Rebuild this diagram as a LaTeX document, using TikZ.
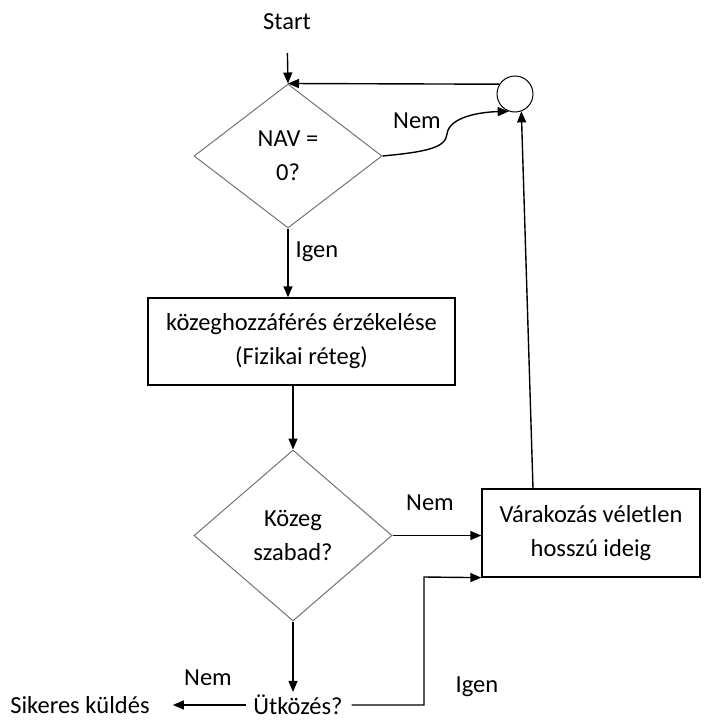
\documentclass[tikz,border=0pt]{standalone}
\usepackage{fontspec}
\setmainfont{Carlito}
\usetikzlibrary{shapes.geometric}
\usetikzlibrary{arrows.meta}

\begin{document}
\begin{tikzpicture}[x=1pt,y=-1pt,
	txt/.style={font=\fontsize{24.5}{34}\selectfont,align=center,inner sep=3pt},
	box/.style={txt,draw,line width=1.3pt},
	decision/.style={txt,diamond,draw=black!55,line width=1pt,inner sep=0pt},
	arr/.style={line width=1.4pt,-{Triangle[length=11pt,width=9pt]}}]
	\useasboundingbox (0,0) rectangle (705,720);
	\node[txt] (start) at (287,22) {Start};
	\node[decision,minimum width=188pt,minimum height=144pt] (nav) at (288,156) {NAV =\\0?};
	\node[draw,circle,line width=1pt,minimum size=36pt,inner sep=0pt] (circ) at (515,94) {};
	\node[box,minimum width=307pt,minimum height=87pt] (erz) at (301.5,341.5) {közeghozzáférés érzékelése\\(Fizikai réteg)};
	\node[decision,minimum width=198pt,minimum height=171pt] (kozeg) at (293,535.5) {Közeg\\szabad?};
	\node[box,minimum width=218pt,minimum height=88pt] (var) at (591,533) {Várakozás véletlen\\hosszú ideig};
	\node[txt] (utk) at (298,705) {Ütközés?};
	\node[txt] (sik) at (80,705) {Sikeres küldés};
	\node[txt] (nem1) at (417,121) {Nem};
	\node[txt] (igen1) at (317,252) {Igen};
	\node[txt] (nem2) at (430,503) {Nem};
	\node[txt] (nem3) at (208,678) {Nem};
	\node[txt] (igen2) at (477,687) {Igen};
	\coordinate (igenbend) at (424,577);

	\draw[arr,shorten <=20pt] (start.south) -- (nav.north);
	\draw[arr] (circ.148) -- (nav.north);
	\draw[arr] (nav.east) .. controls (425,152) and (446,148) .. (447,134)
		.. controls (449,117) and (480,112) .. (circ.250);
	\draw[arr] (nav.south) -- (nav.south |- erz.north);
	\draw[arr] (kozeg.north |- erz.south) -- (kozeg.north);
	\draw[arr] (kozeg.east) -- (kozeg.east -| var.west);
	\draw[arr] ([xshift=-58pt]var.north) -- (circ.290);
	\draw[arr] (kozeg.south) -- (kozeg.south |- utk.north);
	\draw[arr,shorten <=4pt,shorten >=20pt] (utk.west) -- (sik.east);
	\draw[arr,shorten <=6pt] (utk.east) -| (igenbend) -- (var.south west);
\end{tikzpicture}
\end{document}
